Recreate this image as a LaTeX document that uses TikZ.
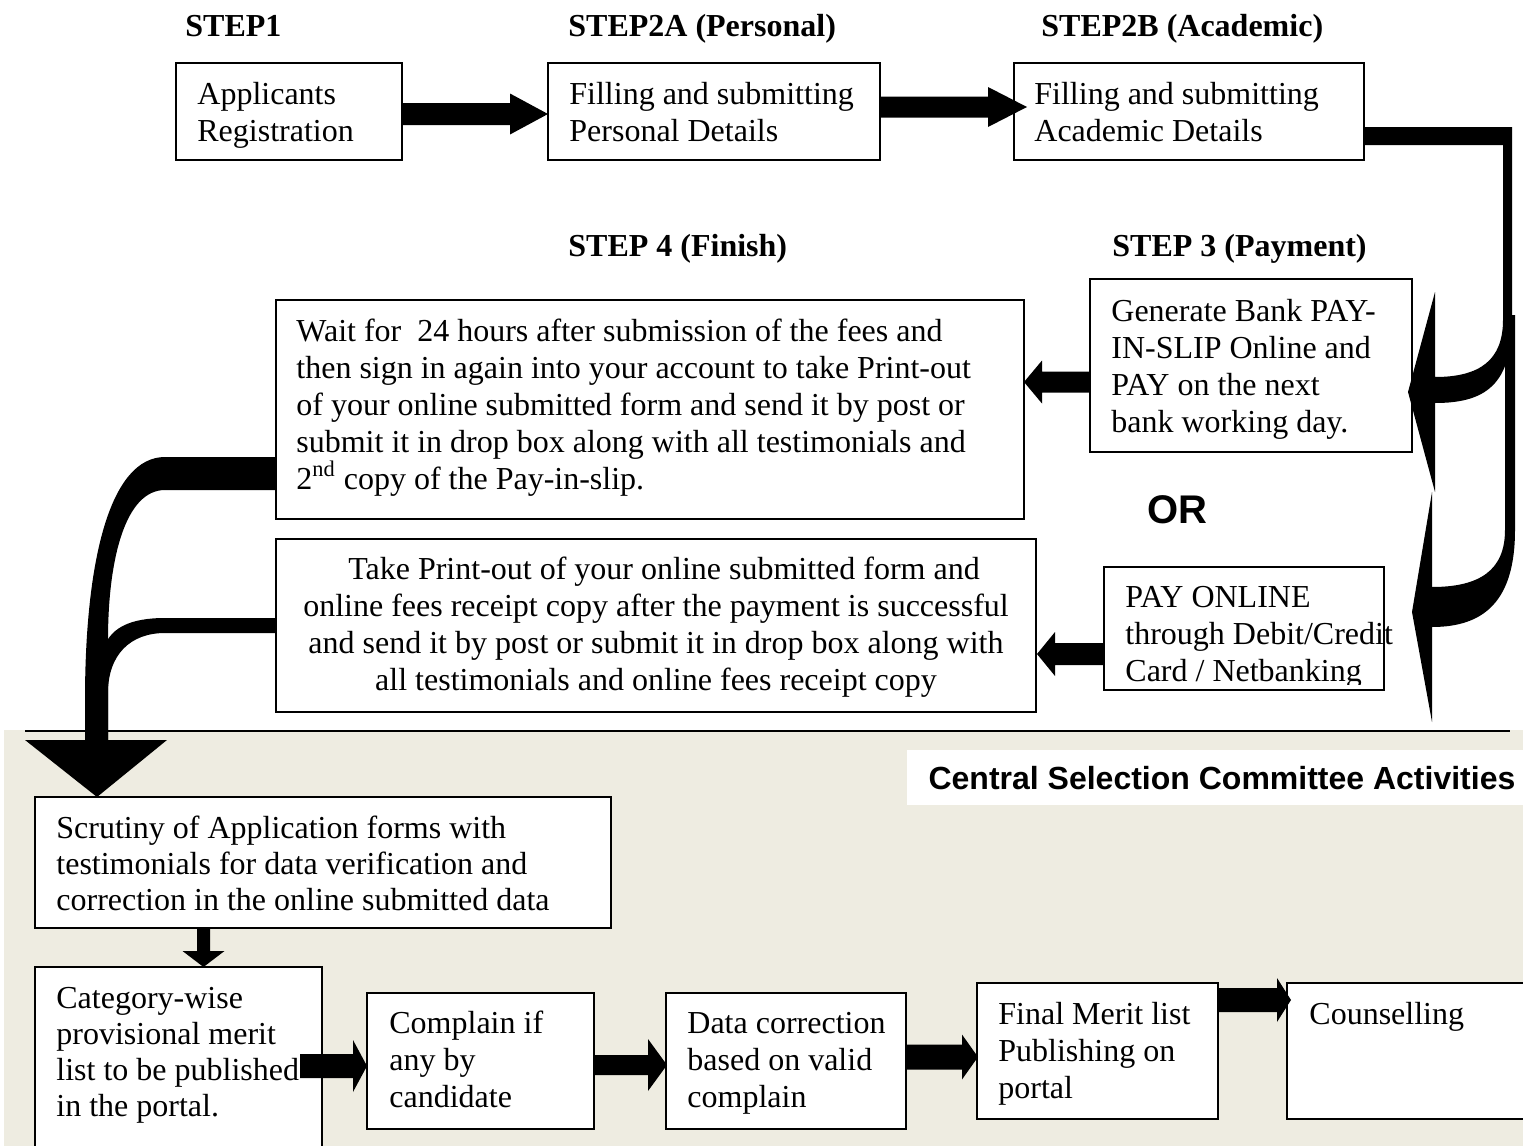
\documentclass[tikz,border=0pt]{standalone}
\usepackage{fontspec}
\setmainfont{Liberation Serif}
\newfontfamily\arialf{Liberation Sans}
\usetikzlibrary{calc,fit}
\definecolor{beige}{HTML}{EEECE1}
% right-pointing block arrow: start, tip, shaft half, head half, head length (pt)
\newcommand\rarrow[5]{\fill let \p1=#1, \p2=#2 in
  (\x1,{\y1+#3pt}) -- ({\x2-#5pt},{\y1+#3pt}) -- ({\x2-#5pt},{\y1+#4pt}) -- (\x2,\y1)
  -- ({\x2-#5pt},{\y1-#4pt}) -- ({\x2-#5pt},{\y1-#3pt}) -- (\x1,{\y1-#3pt}) -- cycle;}
\newcommand\larrow[5]{\fill let \p1=#1, \p2=#2 in
  (\x1,{\y1+#3pt}) -- ({\x2+#5pt},{\y1+#3pt}) -- ({\x2+#5pt},{\y1+#4pt}) -- (\x2,\y1)
  -- ({\x2+#5pt},{\y1-#4pt}) -- ({\x2+#5pt},{\y1-#3pt}) -- (\x1,{\y1-#3pt}) -- cycle;}
\newcommand\darrow[5]{\fill let \p1=#1, \p2=#2 in
  ({\x1-#3pt},\y1) -- ({\x1-#3pt},{\y2+#5pt}) -- ({\x1-#4pt},{\y2+#5pt}) -- (\x1,\y2)
  -- ({\x1+#4pt},{\y2+#5pt}) -- ({\x1+#3pt},{\y2+#5pt}) -- ({\x1+#3pt},\y1) -- cycle;}
\begin{document}
\begin{tikzpicture}[x=0.5pt,y=-0.5pt,
  box/.style={draw, line width=1pt, fill=white, inner sep=0pt, outer sep=0pt},
  txt/.style={inner sep=0pt, anchor=north west, align=left, font=\fontsize{16}{18.5}\selectfont},
  txtb/.style={txt, font=\fontsize{16}{18}\selectfont},
  hdr/.style={inner sep=0pt, anchor=base west, font=\fontsize{16}{18.5}\selectfont\bfseries}]
\useasboundingbox (0,0) rectangle (1523,1146);
\fill[white] (0,0) rectangle (1523,1146);
% lower panel
\fill[beige] (4,730) rectangle (1523,1146);
\draw[line width=1pt] (25,731) -- (1510,731);
\node[fill=white, inner sep=0pt, fit={(907,750) (1523,805)}] (cscbg) {};
\node[font=\arialf\bfseries\fontsize{16}{19}\selectfont, inner sep=0pt] (csc) at (1222,778) {Central Selection Committee Activities};

% headers
\node[hdr] (h1) at (185,36) {STEP1};
\node[hdr] (h2a) at (568,36) {STEP2A (Personal)};
\node[hdr] (h2b) at (1041,36) {STEP2B (Academic)};
\node[hdr] (h4) at (568,256) {STEP 4 (Finish)};
\node[hdr] (h3) at (1112,256) {STEP 3 (Payment)};

% top row
\node[box, fit={(176,63) (402,160)}] (b1) {};
\node[txt] (t1) at (197,78) {\strut Applicants\\Registration};
\node[box, fit={(548,63) (880,160)}] (b2) {};
\node[txt] (t2) at (569,78) {\strut Filling and submitting\\Personal Details};
\node[box, fit={(1014,63) (1364,160)}] (b3) {};
\node[txt] (t3) at (1034,78) {\strut Filling and submitting\\Academic Details};

% middle
\node[box, fit={(276,300) (1024,519)}] (b4) {};
\node[txt] (t4) at (296,315) {\strut Wait for\ \ 24 hours after submission of the fees and\\then sign in again into your account to take Print-out\\of your online submitted form and send it by post or\\submit it in drop box along with all testimonials and\\2\textsuperscript{nd} copy of the Pay-in-slip.};
\node[box, fit={(1090,279) (1412,452)}] (b5) {};
\node[txt] (t5) at (1111,295) {\strut Generate Bank PAY-\\IN-SLIP Online and\\PAY on the next\\bank working day.};
\node[font=\arialf\bfseries\fontsize{20}{24}\selectfont, inner sep=0pt] (or) at (1177,510) {OR};
\node[box, fit={(276,539) (1036,712)}] (b6) {};
\node[txt, anchor=north, align=center] (t6) at (656,553) {\strut\hspace*{8pt}Take Print-out of your online submitted form and\\online fees receipt copy after the payment is successful\\and send it by post or submit it in drop box along with\\all testimonials and online fees receipt copy};
\node[box, fit={(1104,567) (1384,690)}] (b7) {};
\begin{scope}
\clip (1095,560) rectangle (1408,684);
\node[txt] (t7) at (1125,581) {\strut PAY ONLINE\\through Debit/Credit\\Card / Netbanking};
\end{scope}

% bottom
\node[box, fit={(35,797) (611,928)}] (scr) {};
\node[txtb] (ts) at (56,813) {\strut Scrutiny of Application forms with\\testimonials for data verification and\\correction in the online submitted data};
\node[box, fit={(35,967) (322,1165)}] (cat) {};
\node[txtb] (tc) at (56,983) {\strut Category-wise\\provisional merit\\list to be published\\in the portal.};
\node[box, fit={(367,993) (594,1129)}] (cmp) {};
\node[txt] (tm) at (389,1007) {\strut Complain if\\any by\\candidate};
\node[box, fit={(666,993) (906,1129)}] (dat) {};
\node[txt] (td) at (687,1007) {\strut Data correction\\based on valid\\complain};
\node[box, fit={(977,983) (1218,1119)}] (fin) {};
\node[txt] (tf) at (998,998) {\strut Final Merit list\\Publishing on\\portal};
\node[box, fit={(1287,983) (1535,1119)}] (cou) {};
\node[txt] (tco) at (1309,998) {\strut Counselling};

% straight block arrows
\rarrow{($(b1.east)+(0,2.5)$)}{(b2.west)}{5.5}{10.25}{19}
\rarrow{($(b2.east)+(0,-4.5)$)}{($(b3.west)+(13,0)$)}{5.25}{10}{19.5}
\larrow{($(b5.west)+(0,16.5)$)}{(b4.east)}{5.25}{10.75}{9}
\larrow{($(b7.west)+(0,25.5)$)}{($(b6.east)+(1,0)$)}{5.5}{11}{9}
\darrow{($(scr.south west)+(168.5,0)$)}{(cat.north)}{3.25}{10.5}{8}
\rarrow{($(cat.north east)+(-22,99)$)}{(cmp.west)}{6}{13}{7}
\rarrow{($(cmp.east)+(0,4)$)}{($(dat.west)+(1,0)$)}{5}{13}{9.5}
\rarrow{($(dat.east)+(0,-4)$)}{($(fin.west)+(1,0)$)}{6.25}{11.25}{8}
\rarrow{($(fin.north east)+(0,17)$)}{($(cou.west)+(4,0)$)}{6}{11}{7}

% curved arrows on the right
\fill (1363,127) -- (1512,127) -- (1512,320) .. controls (1512,385) and (1485,403) .. (1435,403)
  -- (1435,492) -- (1408,392) -- (1435,292) -- (1435,377)
  .. controls (1480,377) and (1503,360) .. (1503,320) -- (1503,145) -- (1363,145) -- cycle;
\fill (1505,315) -- (1515,315) -- (1515,530) .. controls (1515,600) and (1485,627) .. (1432,627)
  -- (1432,722) -- (1412,612) -- (1432,492) -- (1432,587)
  .. controls (1480,587) and (1505,570) .. (1505,530) -- cycle;

% curved arrow on the left
\fill (276,457) -- (165,457) .. controls (110,457) and (85,560) .. (85,700) -- (85,740)
  -- (25,740) -- (97,797) -- (167,740) -- (108,740) -- (108,640)
  .. controls (108,560) and (125,490) .. (165,490) -- (276,490) -- cycle;
\fill (276,618) -- (165,618) .. controls (130,618) and (112,628) .. (105,645) -- (105,740)
  -- (108,740) -- (108,693) .. controls (108,655) and (130,633) .. (165,633) -- (276,633) -- cycle;
\end{tikzpicture}
\end{document}
